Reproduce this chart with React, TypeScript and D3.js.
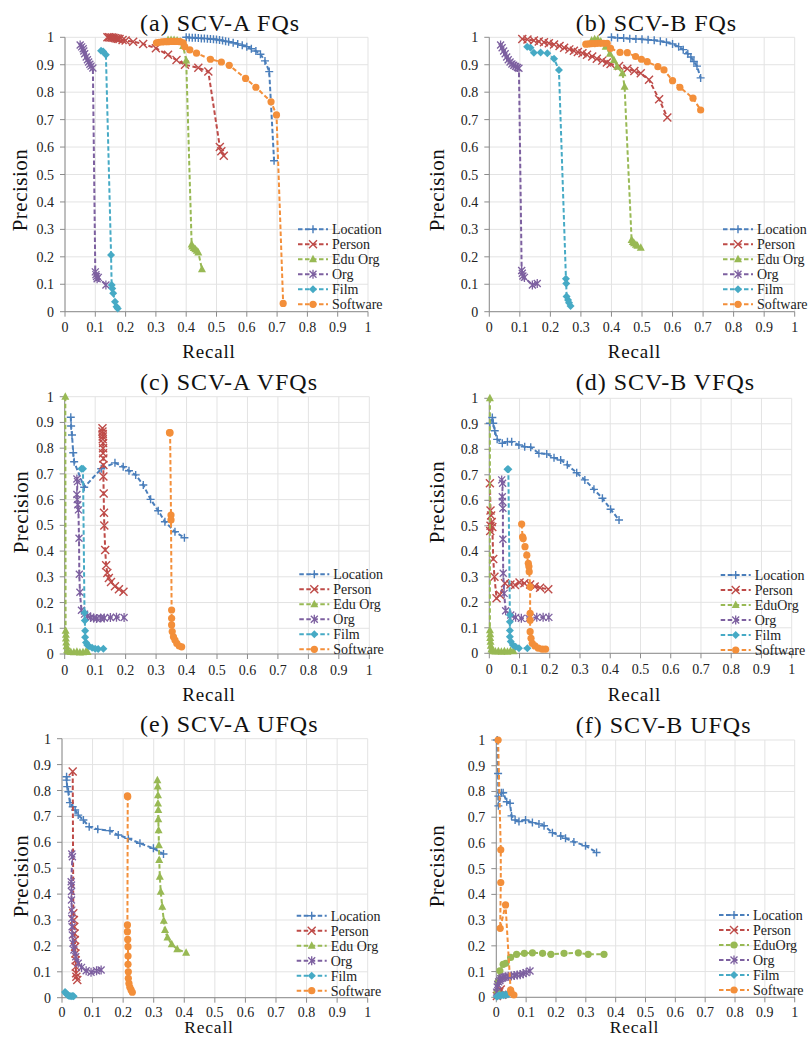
import React from "react";
import * as d3 from "d3";

type Pt = [number, number];

const SERIES_NAMES = ["Location", "Person", "Edu Org", "Org", "Film", "Software"];
const SERIES_NAMES_B = ["Location", "Person", "EduOrg", "Org", "Film", "Software"];
const SERIES_COLORS = ["#4A7EBB", "#BE4B48", "#98B954", "#7D60A0", "#46AAC5", "#F38F3A"];
const MARKERS = ["plus", "cross", "triangle", "star", "diamond", "circle"];
const MARKERS_F = ["plus", "cross", "circle", "star", "diamond", "circle"];
const TICKS = [0, 0.1, 0.2, 0.3, 0.4, 0.5, 0.6, 0.7, 0.8, 0.9, 1];
const TICK_LABELS = ["0", "0.1", "0.2", "0.3", "0.4", "0.5", "0.6", "0.7", "0.8", "0.9", "1"];
const TITLES = ["(a) SCV-A FQs", "(b) SCV-B FQs", "(c) SCV-A VFQs", "(d) SCV-B VFQs", "(e) SCV-A UFQs", "(f) SCV-B UFQs"];

// ---- (a) SCV-A FQs ----
const aLocation: Pt[] = [[0.40,1.0],[0.41,0.999],[0.42,0.998],[0.43,0.998],[0.44,0.997],[0.45,0.996],[0.46,0.996],[0.47,0.995],[0.48,0.994],[0.49,0.993],[0.50,0.992],[0.51,0.99],[0.52,0.988],[0.53,0.986],[0.54,0.984],[0.555,0.98],[0.57,0.976],[0.585,0.971],[0.60,0.966],[0.615,0.958],[0.63,0.95],[0.645,0.938],[0.66,0.914],[0.674,0.875],[0.69,0.55]];
const aPerson: Pt[] = [[0.14,1.0],[0.145,1.0],[0.15,0.999],[0.155,0.999],[0.16,0.998],[0.165,0.997],[0.17,0.996],[0.175,0.995],[0.18,0.994],[0.19,0.99],[0.2,0.988],[0.225,0.984],[0.258,0.976],[0.30,0.96],[0.34,0.936],[0.368,0.917],[0.396,0.90],[0.44,0.889],[0.473,0.875],[0.511,0.60],[0.516,0.585],[0.524,0.568]];
const aEdu: Pt[] = [[0.34,0.99],[0.35,0.99],[0.36,0.99],[0.37,0.988],[0.38,0.985],[0.39,0.968],[0.40,0.915],[0.418,0.245],[0.42,0.238],[0.425,0.232],[0.43,0.228],[0.435,0.222],[0.44,0.216],[0.452,0.155]];
const aOrg: Pt[] = [[0.05,0.972],[0.055,0.965],[0.06,0.958],[0.062,0.95],[0.065,0.94],[0.07,0.928],[0.074,0.918],[0.078,0.91],[0.082,0.902],[0.086,0.895],[0.092,0.888],[0.1,0.145],[0.102,0.135],[0.104,0.128],[0.106,0.12],[0.11,0.125],[0.135,0.097]];
const aFilm: Pt[] = [[0.119,0.951],[0.126,0.948],[0.135,0.936],[0.152,0.207],[0.154,0.097],[0.156,0.085],[0.159,0.067],[0.165,0.036],[0.17,0.018],[0.174,0.012]];
const aSoftware: Pt[] = [[0.302,0.98],[0.31,0.982],[0.32,0.983],[0.33,0.984],[0.34,0.984],[0.35,0.985],[0.36,0.985],[0.37,0.985],[0.38,0.984],[0.39,0.98],[0.395,0.966],[0.412,0.954],[0.434,0.942],[0.48,0.92],[0.516,0.91],[0.542,0.898],[0.596,0.85],[0.63,0.818],[0.68,0.765],[0.698,0.717],[0.72,0.03]];

// ---- (b) SCV-B FQs ----
const bLocation: Pt[] = [[0.40,1.0],[0.42,0.998],[0.44,0.997],[0.46,0.995],[0.48,0.994],[0.50,0.993],[0.52,0.991],[0.54,0.989],[0.56,0.986],[0.58,0.982],[0.60,0.976],[0.62,0.966],[0.635,0.955],[0.65,0.94],[0.66,0.928],[0.67,0.912],[0.68,0.895],[0.692,0.852]];
const bPerson: Pt[] = [[0.108,0.994],[0.125,0.992],[0.146,0.988],[0.162,0.985],[0.179,0.982],[0.195,0.978],[0.212,0.974],[0.23,0.968],[0.245,0.962],[0.262,0.956],[0.277,0.951],[0.29,0.946],[0.305,0.942],[0.32,0.936],[0.337,0.93],[0.352,0.922],[0.37,0.915],[0.385,0.908],[0.397,0.903],[0.425,0.895],[0.452,0.885],[0.475,0.877],[0.496,0.869],[0.523,0.845],[0.556,0.774],[0.583,0.708]];
const bEdu: Pt[] = [[0.335,0.988],[0.345,0.993],[0.355,0.992],[0.365,0.985],[0.381,0.966],[0.395,0.94],[0.408,0.917],[0.419,0.893],[0.436,0.869],[0.443,0.82],[0.466,0.261],[0.47,0.254],[0.474,0.249],[0.48,0.244],[0.485,0.24],[0.496,0.233]];
const bOrg: Pt[] = [[0.037,0.972],[0.042,0.962],[0.047,0.95],[0.052,0.94],[0.057,0.928],[0.062,0.918],[0.068,0.91],[0.074,0.903],[0.08,0.898],[0.086,0.894],[0.092,0.89],[0.097,0.887],[0.106,0.15],[0.108,0.14],[0.11,0.13],[0.115,0.125],[0.141,0.097],[0.157,0.103]];
const bFilm: Pt[] = [[0.124,0.966],[0.135,0.962],[0.146,0.944],[0.168,0.945],[0.19,0.942],[0.212,0.922],[0.228,0.881],[0.251,0.12],[0.252,0.103],[0.253,0.055],[0.258,0.043],[0.261,0.033],[0.266,0.021]];
const bSoftware: Pt[] = [[0.316,0.975],[0.325,0.976],[0.335,0.977],[0.345,0.977],[0.355,0.978],[0.365,0.978],[0.375,0.978],[0.386,0.978],[0.397,0.96],[0.428,0.945],[0.452,0.944],[0.479,0.93],[0.498,0.92],[0.517,0.911],[0.552,0.893],[0.572,0.881],[0.6,0.842],[0.624,0.818],[0.667,0.778],[0.692,0.735]];

// ---- (c) SCV-A VFQs ----
const cLocation: Pt[] = [[0.02,0.92],[0.021,0.886],[0.024,0.851],[0.028,0.782],[0.031,0.747],[0.064,0.648],[0.12,0.72],[0.165,0.743],[0.192,0.728],[0.211,0.712],[0.233,0.696],[0.258,0.657],[0.282,0.601],[0.307,0.557],[0.329,0.514],[0.362,0.475],[0.393,0.452]];
const cPerson: Pt[] = [[0.124,0.877],[0.124,0.865],[0.125,0.855],[0.125,0.845],[0.125,0.835],[0.126,0.82],[0.126,0.8],[0.126,0.78],[0.127,0.76],[0.127,0.735],[0.127,0.69],[0.128,0.624],[0.129,0.549],[0.13,0.499],[0.133,0.404],[0.136,0.345],[0.14,0.315],[0.145,0.295],[0.152,0.28],[0.165,0.263],[0.178,0.252],[0.193,0.242]];
const cEdu: Pt[] = [[0.002,1.0],[0.003,0.09],[0.004,0.075],[0.004,0.06],[0.005,0.045],[0.006,0.03],[0.008,0.015],[0.012,0.01],[0.02,0.008],[0.03,0.007],[0.04,0.009],[0.05,0.006],[0.06,0.007],[0.07,0.01],[0.075,0.008]];
const cOrg: Pt[] = [[0.04,0.68],[0.042,0.67],[0.04,0.62],[0.041,0.6],[0.043,0.58],[0.045,0.56],[0.047,0.45],[0.048,0.31],[0.05,0.24],[0.055,0.17],[0.065,0.155],[0.075,0.148],[0.085,0.142],[0.095,0.14],[0.105,0.138],[0.118,0.14],[0.13,0.14],[0.15,0.142],[0.17,0.143],[0.195,0.142]];
const cFilm: Pt[] = [[0.055,0.72],[0.06,0.72],[0.065,0.16],[0.066,0.13],[0.067,0.09],[0.067,0.065],[0.07,0.045],[0.074,0.035],[0.08,0.03],[0.09,0.024],[0.1,0.02],[0.11,0.019],[0.127,0.02]];
const cSoftware: Pt[] = [[0.344,0.86],[0.346,0.86],[0.349,0.54],[0.349,0.521],[0.351,0.171],[0.351,0.139],[0.351,0.113],[0.353,0.087],[0.357,0.067],[0.362,0.054],[0.368,0.041],[0.376,0.031],[0.384,0.028]];

// ---- (d) SCV-B VFQs ----
const dLocation: Pt[] = [[0.002,0.902],[0.01,0.925],[0.013,0.902],[0.018,0.873],[0.026,0.839],[0.043,0.824],[0.06,0.83],[0.074,0.83],[0.098,0.817],[0.117,0.81],[0.137,0.808],[0.164,0.784],[0.19,0.782],[0.214,0.767],[0.236,0.758],[0.258,0.739],[0.289,0.708],[0.316,0.68],[0.346,0.643],[0.374,0.608],[0.401,0.565],[0.429,0.523]];
const dPerson: Pt[] = [[0.002,0.667],[0.004,0.56],[0.006,0.54],[0.004,0.5],[0.003,0.48],[0.008,0.515],[0.01,0.495],[0.013,0.37],[0.017,0.3],[0.024,0.216],[0.035,0.23],[0.052,0.275],[0.07,0.27],[0.085,0.268],[0.1,0.278],[0.116,0.275],[0.135,0.27],[0.15,0.262],[0.168,0.257],[0.195,0.251]];
const dEdu: Pt[] = [[0.002,1.0],[0.002,0.09],[0.003,0.075],[0.003,0.06],[0.004,0.045],[0.005,0.03],[0.007,0.015],[0.012,0.008],[0.02,0.007],[0.03,0.008],[0.04,0.006],[0.05,0.008],[0.06,0.006],[0.07,0.009],[0.08,0.008]];
const dOrg: Pt[] = [[0.041,0.68],[0.044,0.667],[0.043,0.614],[0.043,0.595],[0.045,0.569],[0.045,0.447],[0.046,0.314],[0.049,0.235],[0.054,0.167],[0.071,0.15],[0.087,0.141],[0.106,0.137],[0.131,0.137],[0.157,0.141],[0.178,0.141],[0.197,0.141]];
const dFilm: Pt[] = [[0.06,0.722],[0.063,0.722],[0.068,0.15],[0.068,0.124],[0.068,0.089],[0.068,0.065],[0.071,0.046],[0.078,0.033],[0.087,0.026],[0.098,0.02],[0.126,0.02]];
const dSoftware: Pt[] = [[0.107,0.507],[0.11,0.457],[0.112,0.45],[0.118,0.418],[0.124,0.385],[0.129,0.353],[0.131,0.34],[0.132,0.32],[0.135,0.261],[0.135,0.157],[0.135,0.13],[0.135,0.085],[0.138,0.059],[0.142,0.039],[0.151,0.029],[0.162,0.02],[0.175,0.016],[0.186,0.016]];

// ---- (e) SCV-A UFQs ----
const eLocation: Pt[] = [[0.015,0.853],[0.015,0.84],[0.017,0.815],[0.021,0.795],[0.026,0.753],[0.035,0.737],[0.043,0.725],[0.053,0.705],[0.07,0.686],[0.089,0.66],[0.117,0.65],[0.157,0.645],[0.184,0.628],[0.217,0.615],[0.255,0.596],[0.299,0.577],[0.332,0.555]];
const ePerson: Pt[] = [[0.035,0.873],[0.037,0.326],[0.039,0.3],[0.04,0.274],[0.041,0.248],[0.042,0.223],[0.043,0.197],[0.044,0.171],[0.045,0.145],[0.045,0.12],[0.046,0.094],[0.047,0.081],[0.05,0.068]];
const eEdu: Pt[] = [[0.312,0.84],[0.313,0.815],[0.314,0.782],[0.314,0.75],[0.315,0.725],[0.315,0.689],[0.316,0.647],[0.317,0.589],[0.318,0.532],[0.32,0.467],[0.323,0.409],[0.328,0.351],[0.333,0.297],[0.337,0.261],[0.345,0.232],[0.359,0.206],[0.377,0.187],[0.406,0.174]];
const eOrg: Pt[] = [[0.032,0.555],[0.034,0.544],[0.03,0.448],[0.031,0.435],[0.031,0.41],[0.031,0.377],[0.032,0.338],[0.032,0.306],[0.033,0.274],[0.034,0.242],[0.036,0.21],[0.039,0.184],[0.045,0.158],[0.053,0.133],[0.064,0.117],[0.079,0.104],[0.095,0.098],[0.113,0.104],[0.128,0.107]];
const eFilm: Pt[] = [[0.01,0.022],[0.012,0.018],[0.015,0.014],[0.018,0.01],[0.022,0.008],[0.026,0.007],[0.03,0.006],[0.035,0.007],[0.038,0.006]];
const eSoftware: Pt[] = [[0.214,0.779],[0.215,0.776],[0.214,0.281],[0.214,0.255],[0.215,0.225],[0.216,0.197],[0.216,0.161],[0.216,0.129],[0.217,0.1],[0.217,0.075],[0.219,0.055],[0.222,0.04],[0.226,0.03],[0.23,0.021]];

// ---- (f) SCV-B UFQs ----
const fLocation: Pt[] = [[0.003,1.0],[0.006,0.87],[0.007,0.782],[0.007,0.744],[0.017,0.795],[0.023,0.795],[0.035,0.76],[0.046,0.754],[0.051,0.705],[0.063,0.689],[0.076,0.683],[0.098,0.689],[0.121,0.679],[0.143,0.674],[0.16,0.667],[0.188,0.64],[0.216,0.627],[0.232,0.618],[0.26,0.604],[0.299,0.589],[0.336,0.563]];
const fPerson: Pt[] = [[0.002,0.005],[0.005,0.015],[0.01,0.02],[0.015,0.03],[0.02,0.01]];
const fEdu: Pt[] = [[0.003,0.02],[0.006,0.06],[0.012,0.103],[0.023,0.128],[0.032,0.132],[0.048,0.155],[0.068,0.167],[0.094,0.171],[0.121,0.173],[0.155,0.171],[0.183,0.167],[0.227,0.171],[0.275,0.173],[0.308,0.167],[0.361,0.167]];
const fOrg: Pt[] = [[0.001,0.02],[0.003,0.04],[0.005,0.05],[0.008,0.06],[0.012,0.065],[0.015,0.072],[0.02,0.075],[0.026,0.078],[0.032,0.08],[0.04,0.082],[0.05,0.083],[0.06,0.085],[0.07,0.087],[0.08,0.088],[0.09,0.092],[0.1,0.096],[0.113,0.102]];
const fFilm: Pt[] = [[0.002,0.002],[0.005,0.005],[0.01,0.008],[0.015,0.006],[0.02,0.01],[0.025,0.008],[0.03,0.01],[0.035,0.01],[0.04,0.012]];
const fSoftware: Pt[] = [[0.006,1.0],[0.015,0.573],[0.015,0.446],[0.013,0.268],[0.031,0.359],[0.048,0.028],[0.05,0.018],[0.059,0.009]];

const PANEL_DATA: Pt[][][] = [
  [aLocation, aPerson, aEdu, aOrg, aFilm, aSoftware],
  [bLocation, bPerson, bEdu, bOrg, bFilm, bSoftware],
  [cLocation, cPerson, cEdu, cOrg, cFilm, cSoftware],
  [dLocation, dPerson, dEdu, dOrg, dFilm, dSoftware],
  [eLocation, ePerson, eEdu, eOrg, eFilm, eSoftware],
  [fLocation, fPerson, fEdu, fOrg, fFilm, fSoftware],
];

// layout (pixels)
const LAYOUT = [
  { x0: 65, x1: 368, yT: 37.3, yB: 311.7, tx: 140, ty: 30.5, px: 20, py: 190, rx: 209, ry: 358, lx: 298, ly: 229.3 },
  { x0: 489.3, x1: 794.7, yT: 37.3, yB: 311.7, tx: 575.7, ty: 30.5, px: 436.5, py: 190, rx: 634.5, ry: 358, lx: 723, ly: 229.3 },
  { x0: 64.7, x1: 369.3, yT: 396.7, yB: 654, tx: 140, ty: 389.5, px: 20.7, py: 512, rx: 209, ry: 701, lx: 299.3, ly: 574.3 },
  { x0: 489.3, x1: 791.7, yT: 398.3, yB: 653.3, tx: 575.7, ty: 390, px: 436.5, py: 502, rx: 634.5, ry: 701, lx: 720.7, ly: 575 },
  { x0: 62, x1: 367.7, yT: 738.7, yB: 997.7, tx: 140, ty: 731.7, px: 20.7, py: 876, rx: 209, ry: 1032.5, lx: 296.7, ly: 915.7 },
  { x0: 496.3, x1: 794.7, yT: 740, yB: 997.3, tx: 575.7, ty: 732.7, px: 436.5, py: 866, rx: 634.5, ry: 1032.5, lx: 719, ly: 915 },
];

const FONT = "Liberation Serif, DejaVu Serif, serif";

function Marker({ kind, x, y, color }: { kind: string; x: number; y: number; color: string }) {
  const s = 4;
  if (kind === "plus")
    return <path d={`M${x - s},${y}H${x + s}M${x},${y - s}V${y + s}`} stroke={color} strokeWidth={1.4} fill="none" />;
  if (kind === "cross")
    return <path d={`M${x - s},${y - s}L${x + s},${y + s}M${x - s},${y + s}L${x + s},${y - s}`} stroke={color} strokeWidth={1.4} fill="none" />;
  if (kind === "star")
    return <path d={`M${x - 3.5},${y - 3.5}L${x + 3.5},${y + 3.5}M${x - 3.5},${y + 3.5}L${x + 3.5},${y - 3.5}M${x},${y - 4.5}V${y + 4.5}`} stroke={color} strokeWidth={1.3} fill="none" />;
  if (kind === "triangle")
    return <path d={`M${x},${y - 4.5}L${x + 4},${y + 3}L${x - 4},${y + 3}Z`} fill={color} />;
  if (kind === "diamond")
    return <path d={`M${x},${y - 4}L${x + 4},${y}L${x},${y + 4}L${x - 4},${y}Z`} fill={color} />;
  return <circle cx={x} cy={y} r={3.6} fill={color} />;
}

function Panel({ idx }: { idx: number }) {
  const L = LAYOUT[idx];
  const xs = d3.scaleLinear().domain([0, 1]).range([L.x0, L.x1]);
  const ys = d3.scaleLinear().domain([0, 1]).range([L.yB, L.yT]);
  const line = d3.line<Pt>().x((d) => xs(d[0])).y((d) => ys(d[1]));
  const names = idx === 3 || idx === 5 ? SERIES_NAMES_B : SERIES_NAMES;
  const markers = idx === 5 ? MARKERS_F : MARKERS;
  const data = PANEL_DATA[idx];
  const bottomRow = idx >= 4;
  return (
    <g>
      {TICKS.map((t, i) => (
        <g key={"g" + i}>
          <line x1={xs(t)} x2={xs(t)} y1={L.yT} y2={L.yB} stroke="#e3e3e3" strokeWidth={1} />
          <line x1={L.x0} x2={L.x1} y1={ys(t)} y2={ys(t)} stroke="#e3e3e3" strokeWidth={1} />
        </g>
      ))}
      <line x1={L.x0} x2={L.x0} y1={L.yT} y2={L.yB} stroke="#8c8c8c" strokeWidth={1} />
      <line x1={L.x0} x2={L.x1} y1={L.yB} y2={L.yB} stroke="#8c8c8c" strokeWidth={1} />
      {TICKS.map((t, i) => (
        <g key={"t" + i}>
          <line x1={L.x0 - 5} x2={L.x0} y1={ys(t)} y2={ys(t)} stroke="#8c8c8c" />
          <line x1={xs(t)} x2={xs(t)} y1={L.yB} y2={L.yB + 5} stroke="#8c8c8c" />
          <text x={L.x0 - 11} y={ys(t) + 5} textAnchor="end" fontSize={14} style={{ fontFamily: FONT }} fill="#222">{TICK_LABELS[i]}</text>
          <text x={xs(t)} y={L.yB + (bottomRow ? 19.5 : 20.5)} textAnchor="middle" fontSize={14} style={{ fontFamily: FONT }} fill="#222">{TICK_LABELS[i]}</text>
        </g>
      ))}
      {data.map((ser, si) => (
        <g key={"s" + si}>
          <path d={line(ser) || ""} fill="none" stroke={SERIES_COLORS[si]} strokeWidth={2} strokeDasharray="4.5,2.5" />
          {ser.map((p, pi) => (
            <Marker key={pi} kind={markers[si]} x={xs(p[0])} y={ys(p[1])} color={SERIES_COLORS[si]} />
          ))}
        </g>
      ))}
      {names.map((n, si) => {
        const y = L.ly + si * 15;
        return (
          <g key={"l" + si}>
            <line x1={L.lx} x2={L.lx + 30} y1={y} y2={y} stroke={SERIES_COLORS[si]} strokeWidth={2} strokeDasharray="4.5,2.5" />
            <Marker kind={markers[si]} x={L.lx + 15} y={y} color={SERIES_COLORS[si]} />
            <text x={L.lx + 34} y={y + 5} fontSize={14} style={{ fontFamily: FONT }} fill="#222">{n}</text>
          </g>
        );
      })}
      <text x={L.tx} y={L.ty} fontSize={24} letterSpacing={1} style={{ fontFamily: FONT }} fill="#111">{TITLES[idx]}</text>
      <text x={L.rx} y={L.ry} textAnchor="middle" fontSize={bottomRow ? 17.5 : 19} letterSpacing={0.8} style={{ fontFamily: FONT }} fill="#111">Recall</text>
      <text transform={`translate(${L.px + 7},${L.py}) rotate(-90)`} textAnchor="middle" fontSize={21} letterSpacing={0.5} style={{ fontFamily: FONT }} fill="#111">Precision</text>
    </g>
  );
}

export default function App() {
  return (
    <svg width={808} height={1037} style={{ position: "absolute", left: 0, top: 0, background: "#fff" }}>
      <rect x={0} y={0} width={808} height={1037} fill="#fff" />
      {[0, 1, 2, 3, 4, 5].map((i) => (
        <Panel key={i} idx={i} />
      ))}
    </svg>
  );
}
